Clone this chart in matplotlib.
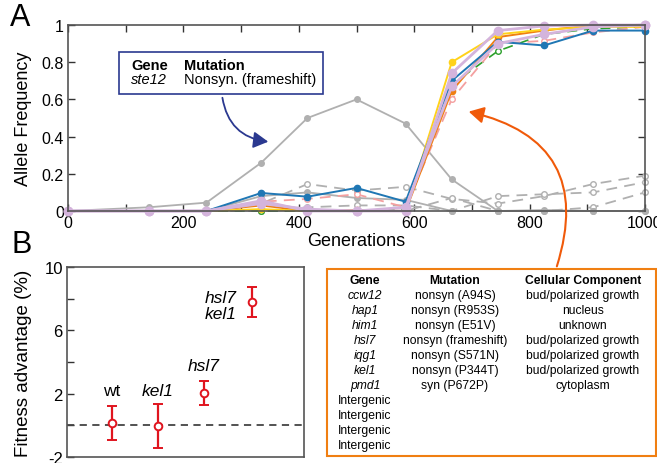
import numpy as np
import matplotlib.pyplot as plt
from matplotlib.patches import FancyArrowPatch, Rectangle

plt.rcParams['font.family'] = ['Liberation Sans', 'DejaVu Sans']

# generations sampled
gens = [0, 140, 240, 335, 415, 500, 585, 665, 745, 825, 910, 1000]

# sweeping mutations (solid, filled markers)
blue = [0, 0, 0, 0.097, 0.077, 0.124, 0.05, 0.70, 0.91, 0.89, 0.97, 0.97]
orange = [0, 0, 0, 0.03, 0.0, 0.005, 0.0, 0.645, 0.935, 0.97, 1.0, 1.0]
yellow = [0, 0, 0, 0.01, 0.0, 0.0, 0.0, 0.80, 0.95, 0.975, 0.99, 0.99]
lav1 = [0, 0, 0, 0.055, 0.0, 0.0, 0.0, 0.74, 0.97, 0.995, 1.0, 1.0]
lav2 = [0, 0, 0, 0.04, 0.01, 0.0, 0.02, 0.67, 0.90, 0.95, 0.99, 1.0]
# sweeping mutations (dashed, open markers)
pink = [0, 0, 0, 0.05, 0.065, 0.09, 0.02, 0.60, 0.90, 0.915, 0.96, 0.99]
green = [0, 0, 0, 0.0, 0.0, 0.0, 0.01, 0.68, 0.86, 0.95, 0.98, 0.99]
# ste12 and background gray lines
ste12 = [0, 0.02, 0.045, 0.26, 0.50, 0.60, 0.47, 0.17, 0.0, 0.0, 0.0, 0.0]
gray_s = [0, 0, 0, 0.08, 0.10, 0.07, 0.06, 0.0, 0.0, 0.005, 0.0, 0.0]
gray_d1 = [0, 0, 0, 0.04, 0.145, 0.11, 0.13, 0.065, 0.04, 0.08, 0.145, 0.19]
gray_d2 = [0, 0, 0, 0.0, 0.02, 0.03, 0.03, 0.0, 0.08, 0.09, 0.10, 0.155]
gray_d3 = [0, 0, 0, 0.0, 0.0, 0.0, 0.0, 0.07, 0.0, 0.0, 0.02, 0.10]

# panel B
strains = ['wt', 'kel1', 'hsl7', 'hsl7\nkel1']
xpos = [1, 2, 3, 4.05]
fitness = [0.15, -0.05, 2.05, 7.8]
ferr = [1.1, 1.37, 0.77, 0.95]

# table
genes = ['ccw12', 'hap1', 'him1', 'hsl7', 'iqg1', 'kel1', 'pmd1',
         'Intergenic', 'Intergenic', 'Intergenic', 'Intergenic']
mutations = ['nonsyn (A94S)', 'nonsyn (R953S)', 'nonsyn (E51V)', 'nonsyn (frameshift)',
             'nonsyn (S571N)', 'nonsyn (P344T)', 'syn (P672P)']
components = ['bud/polarized growth', 'nucleus', 'unknown', 'bud/polarized growth',
              'bud/polarized growth', 'bud/polarized growth', 'cytoplasm']

fig = plt.figure(figsize=(6.57, 4.64), dpi=100)
W, H = 657, 464

def box(l, t, r, b):
    return [l / W, 1 - b / H, (r - l) / W, (b - t) / H]

def fx(px):
    return px / W

def fy(py):
    return 1 - py / H

ax = fig.add_axes(box(68, 26, 645, 212))
gc = '#b0b0b0'
for y in [gray_d1, gray_d2, gray_d3]:
    ax.plot(gens, y, '--', color=gc, lw=1.3, dashes=(6, 4), marker='o', ms=4,
            mfc='white', mec=gc, mew=1.0, clip_on=False)
ax.plot(gens, gray_s, '-', color=gc, lw=1.3, marker='o', ms=4, mfc=gc, mec=gc, clip_on=False)
ax.plot(gens, ste12, '-', color=gc, lw=1.3, marker='o', ms=4, mfc=gc, mec=gc, clip_on=False)
ax.plot(gens, green, '--', color='#2ca02c', lw=1.2, dashes=(6, 4), marker='o', ms=4,
        mfc='white', mec='#2ca02c', clip_on=False)
ax.plot(gens, pink, '--', color='#f4a0a0', lw=1.3, dashes=(6, 4), marker='o', ms=4,
        mfc='white', mec='#f4a0a0', clip_on=False)
for y, c in [(orange, '#f07f12'), (yellow, '#ffd21a'), (blue, '#1f77b4')]:
    ax.plot(gens, y, '-', color=c, lw=1.4, marker='o', ms=4.5, mfc=c, mec=c, clip_on=False)
for y in [lav2, lav1]:
    ax.plot(gens, y, '-', color='#d4b4dc', lw=2.0, marker='o', ms=6, mfc='#d4b4dc',
            mec='#d4b4dc', clip_on=False)

ax.set_xlim(0, 1000)
ax.set_ylim(0, 1)
ax.set_xticks(range(0, 1001, 200))
ax.set_xticks(range(0, 1001, 100), minor=True)
ax.set_yticks([0, 0.2, 0.4, 0.6, 0.8, 1])
ax.set_yticklabels(['0', '0.2', '0.4', '0.6', '0.8', '1'])
ax.tick_params(direction='in', labelsize=11.5, length=5, width=1, colors='#333333',
               labelcolor='black', top=True, right=True, pad=3)
ax.tick_params(which='minor', direction='in', length=5, width=1, colors='#333333',
               top=True)
for s in ax.spines.values():
    s.set_color('#555555')
    s.set_linewidth(1.2)
ax.set_xlabel('Generations', fontsize=13, labelpad=1)
ax.set_ylabel('Allele Frequency', fontsize=13, labelpad=7)

# ste12 annotation box
ax.add_patch(Rectangle((fx(119), fy(95)), 204 / W, 42 / H, transform=fig.transFigure,
                       fill=True, fc='white', ec='#2b3990', lw=1.2, zorder=5, clip_on=False))
tk = dict(transform=fig.transFigure, fontsize=10.5, zorder=6, va='center')
ax.text(fx(131), fy(66), 'Gene', fontweight='bold', **tk)
ax.text(fx(184), fy(66), 'Mutation', fontweight='bold', **tk)
ax.text(fx(131), fy(80), 'ste12', style='italic', **tk)
ax.text(fx(184), fy(80), 'Nonsyn. (frameshift)', **tk)
fig.patches.append(FancyArrowPatch((fx(222), fy(96)), (fx(271), fy(143)),
                                   transform=fig.transFigure, connectionstyle='arc3,rad=0.4',
                                   arrowstyle='-|>,head_length=9,head_width=5',
                                   color='#2b3990', lw=1.3))

fig.text(fx(20), fy(18), 'A', fontsize=22, va='center', ha='center')
fig.text(fx(22), fy(245), 'B', fontsize=22, va='center', ha='center')

# panel B
bx = fig.add_axes(box(67, 268, 304, 458))
bx.axhline(0, color='#444444', ls='--', lw=1.3, dashes=(4, 3))
bx.errorbar(xpos, fitness, yerr=ferr, fmt='o', color='#e0141e', ecolor='#e0141e',
            mfc='white', mec='#e0141e', ms=5.5, mew=1.4, elinewidth=1.6, capsize=3.5,
            capthick=1.6)
bx.text(xpos[0], 1.75, strains[0], ha='center', va='bottom', fontsize=12.5)
bx.text(xpos[1], 1.75, strains[1], ha='center', va='bottom', fontsize=12.5, style='italic')
bx.text(xpos[2], 3.3, strains[2], ha='center', va='bottom', fontsize=12.5, style='italic')
bx.text(3.35, 7.55, strains[3], ha='center', va='center', fontsize=12.5, style='italic',
        linespacing=1.05)
bx.set_xlim(0.02, 5.17)
bx.set_ylim(-2, 10)
bx.set_xticks([])
bx.set_yticks([-2, 0, 2, 4, 6, 8, 10])
bx.set_yticklabels(['-2', '', '2', '', '6', '', '10'])
bx.tick_params(direction='in', labelsize=12, length=5, width=1, colors='#333333',
               labelcolor='black', pad=3)
for s in bx.spines.values():
    s.set_color('#555555')
    s.set_linewidth(1.2)
bx.set_ylabel('Fitness advantage (%)', fontsize=13.5, labelpad=9)

# table box
fig.patches.append(Rectangle((fx(327), fy(457)), 329 / W, 187 / H, transform=fig.transFigure,
                             fill=False, ec='#f07f12', lw=1.5))
fig.patches.append(FancyArrowPatch((fx(556), fy(270)), (fx(466), fy(112)),
                                   transform=fig.transFigure, connectionstyle='arc3,rad=0.55',
                                   arrowstyle='-|>,head_length=9,head_width=5',
                                   color='#f05a0a', lw=1.5))
cols = [365, 455, 583]
ty = 281
fs = 8.7
fig.text(fx(cols[0]), fy(ty), 'Gene', fontsize=fs, fontweight='bold', ha='center', va='center')
fig.text(fx(cols[1]), fy(ty), 'Mutation', fontsize=fs, fontweight='bold', ha='center', va='center')
fig.text(fx(cols[2]), fy(ty), 'Cellular Component', fontsize=fs, fontweight='bold',
         ha='center', va='center')
for i, g in enumerate(genes):
    y = fy(ty + 15 * (i + 1))
    fig.text(fx(cols[0]), y, g, fontsize=fs, ha='center', va='center',
             style='normal' if g == 'Intergenic' else 'italic')
    if i < len(mutations):
        fig.text(fx(cols[1]), y, mutations[i], fontsize=fs, ha='center', va='center')
        fig.text(fx(cols[2]), y, components[i], fontsize=fs, ha='center', va='center')

fig.savefig('out.png', dpi=100)
